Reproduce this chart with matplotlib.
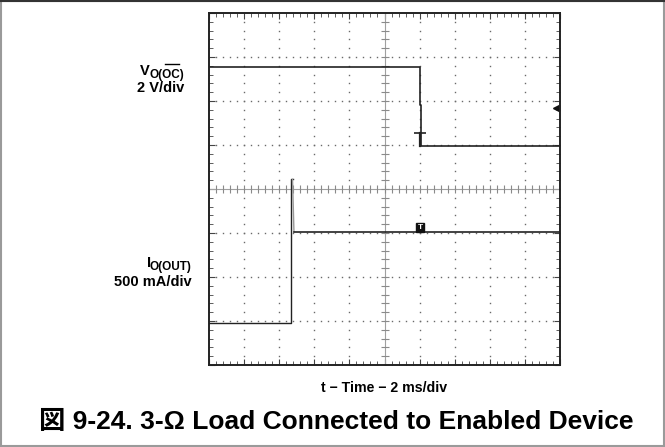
#!/usr/bin/env python3

import numpy as np
import matplotlib
matplotlib.use("Agg")
import matplotlib.pyplot as plt
from matplotlib.patches import Rectangle
from matplotlib.lines import Line2D

# Scope traces, in screen divisions (x: 0..10 div at 2 ms/div, y: 0..8 div)
v_time = [0.0, 6.00, 6.00, 6.03, 6.03, 10.0]
v_level = [6.78, 6.78, 5.91, 5.91, 4.98, 4.98]

i_time = [0.0, 2.33, 2.33, 2.38]
i_level = [0.95, 0.95, 4.22, 4.22]
i_fall_time = [2.38, 2.42]
i_fall_level = [4.22, 3.03]
i_settle_time = [2.42, 10.0]
i_settle_level = [3.03, 3.03]

trig_v = (6.02, 5.28)
trig_i = (6.02, 3.12)
ref_arrow = (9.88, 5.84)

W, H = 665, 447
fig = plt.figure(figsize=(W / 100, H / 100), dpi=100)

# outer border
fig.patches.append(Rectangle((0.002, 0.003), 0.996, 0.994, transform=fig.transFigure,
                             fill=False, edgecolor="#9a9a9a", linewidth=1.5))
fig.add_artist(Line2D([0, 1], [0.998, 0.998], transform=fig.transFigure,
                      color="#333333", linewidth=1.5))

left, top, right, bottom = 209, 13, 560, 365
ax = fig.add_axes([left / W, 1 - bottom / H, (right - left) / W, (bottom - top) / H])
ax.set_xlim(0, 10)
ax.set_ylim(0, 8)

for s in ax.spines.values():
    s.set_linewidth(1.4)
    s.set_color("#222222")

ax.set_xticks(np.arange(0, 10.01, 1))
ax.set_yticks(np.arange(0, 8.01, 1))
ax.set_xticks(np.arange(0, 10.01, 0.2), minor=True)
ax.set_yticks(np.arange(0, 8.01, 0.2), minor=True)
ax.tick_params(which="both", direction="in", top=True, right=True,
               labelbottom=False, labelleft=False, color="#444444")
ax.tick_params(which="major", length=4, width=0.8)
ax.tick_params(which="minor", length=3, width=0.6)

# dotted graticule
minor_x = np.arange(0.2, 10, 0.2)
minor_y = np.arange(0.2, 8, 0.2)
for gx in range(1, 10):
    if gx != 5:
        ax.plot([gx] * len(minor_y), minor_y, ls="none", marker="s", ms=1.0,
                color="#6a6a6a", mew=0)
for gy in range(1, 8):
    if gy != 4:
        ax.plot(minor_x, [gy] * len(minor_x), ls="none", marker="s", ms=1.0,
                color="#6a6a6a", mew=0)

# centre cross-hair
ax.axhline(4, color="#a0a0a0", lw=0.8)
ax.axvline(5, color="#a0a0a0", lw=0.8)
ax.plot(minor_x, [4] * len(minor_x), ls="none", marker="|", ms=6, mew=0.8, color="#8a8a8a")
ax.plot([5] * len(minor_y), minor_y, ls="none", marker="_", ms=6, mew=0.8, color="#8a8a8a")

# traces
ax.plot(v_time, v_level, color="#222222", lw=1.2)
ax.plot(i_time, i_level, color="#222222", lw=1.0)
ax.plot(i_fall_time, i_fall_level, color="#999999", lw=1.0)
ax.plot(i_settle_time, i_settle_level, color="#222222", lw=1.2)

# trigger / reference markers
ax.plot([trig_v[0]], [trig_v[1]], marker="_", ms=8, mew=1.2, color="#222222")
ax.plot([trig_v[0], trig_v[0]], [trig_v[1], v_level[-1]], color="#222222", lw=1.6)
ax.text(trig_i[0], trig_i[1], "T", ha="center", va="center", color="white",
        fontsize=6, fontweight="bold", family="Liberation Sans",
        bbox=dict(boxstyle="square,pad=0.15", fc="#111111", ec="#111111"))
ax.plot([ref_arrow[0]], [ref_arrow[1]], marker="<", ms=5, color="#111111")

fam = ["Liberation Sans", "Noto Sans CJK JP", "DejaVu Sans"]


def fx(px):
    return px / W


def fy(py):
    return 1 - py / H


# channel labels
fig.text(fx(150), fy(75), "V", ha="right", va="baseline", fontsize=10.5,
         fontweight="bold", family=fam)
fig.text(fx(150), fy(78), "O(OC)", ha="left", va="baseline", fontsize=8.5,
         fontweight="bold", family=fam)
fig.add_artist(Line2D([fx(165), fx(179)], [fy(64), fy(64)], transform=fig.transFigure,
                      color="black", lw=1.0))
fig.text(fx(184), fy(92), "2 V/div", ha="right", va="baseline", fontsize=10.5,
         fontweight="bold", family=fam)

fig.text(fx(151), fy(267), "I", ha="right", va="baseline", fontsize=10.5,
         fontweight="bold", family=fam)
fig.text(fx(150), fy(270), "O(OUT)", ha="left", va="baseline", fontsize=8.5,
         fontweight="bold", family=fam)
fig.text(fx(192), fy(286), "500 mA/div", ha="right", va="baseline", fontsize=10.5,
         fontweight="bold", family=fam)

fig.text(fx(384), fy(388), "t \u2212 Time \u2212 2 ms/div", ha="center", va="center",
         fontsize=10.2, fontweight="bold", family=fam)

fig.text(fx(336), fy(422), "\u56f3 9-24. 3-\u03a9 Load Connected to Enabled Device",
         ha="center", va="center", fontsize=19, fontweight="bold", family=fam)

fig.savefig("out.png", dpi=100)
